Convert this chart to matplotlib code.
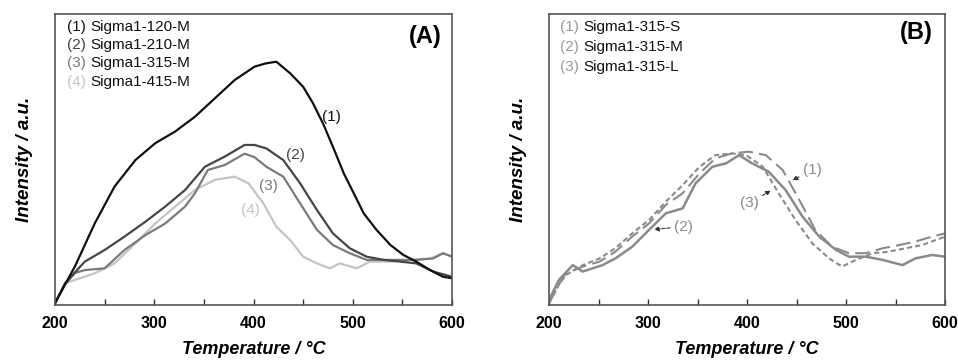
import matplotlib
matplotlib.use("Agg")
import matplotlib.pyplot as plt
from matplotlib.ticker import MultipleLocator, NullLocator

plt.rcParams['font.family'] = ['Liberation Sans', 'DejaVu Sans']

# ---------------- Panel A data ----------------
a1_x = [200, 210, 220, 240, 260, 281, 301, 321, 341, 361, 381, 401, 412, 423, 437, 450, 460, 470, 480, 491, 501, 511, 524, 538, 551, 564, 578, 591, 600]
a1_y = [0.6, 7, 13.2, 28, 40.7, 49.8, 55.6, 59.6, 64.7, 71, 77.3, 81.9, 83, 83.6, 79.6, 75, 69.3, 62.4, 54.4, 45.2, 38.4, 31.5, 25.8, 20.6, 17.2, 14.9, 12, 9.7, 9.2]

a2_x = [200, 210, 230, 250, 270, 291, 311, 331, 351, 371, 391, 401, 413, 430, 447, 464, 480, 497, 514, 531, 548, 564, 581, 600]
a2_y = [0.6, 7.4, 14.9, 18.9, 23.5, 28.6, 33.8, 39.5, 47.5, 51, 55, 55, 53.8, 49.8, 41.8, 32.6, 24.6, 19.5, 16.6, 15.5, 14.9, 14.3, 11.5, 9.7]

a3_x = [200, 210, 220, 230, 250, 270, 291, 311, 331, 341, 354, 371, 391, 401, 413, 430, 447, 464, 480, 497, 514, 531, 548, 564, 581, 591, 600]
a3_y = [0.6, 7, 11, 12, 12.6, 18.9, 24, 28, 33.8, 38.4, 46.4, 48.1, 52, 50.8, 47.5, 44.1, 34.9, 25.8, 20.6, 17.8, 15.5, 15.5, 15.5, 15.5, 16, 17.8, 16.6]

a4_x = [200, 210, 220, 240, 260, 281, 301, 321, 341, 361, 381, 395, 410, 423, 437, 450, 464, 477, 487, 504, 517, 538, 558, 578, 591, 600]
a4_y = [0.6, 7.4, 8.6, 10.9, 14.3, 21.2, 28, 33.8, 39.5, 43, 44.1, 41.8, 34.9, 26.9, 22.3, 16.6, 14.3, 12.6, 14.3, 12.6, 14.9, 14.9, 15.5, 16, 17.8, 16.6]

a_nums = ["(1)", "(2)", "(3)", "(4)"]
a_names = ["Sigma1-120-M", "Sigma1-210-M", "Sigma1-315-M", "Sigma1-415-M"]
a_label_x = [479, 442, 415, 397]
a_label_y = [64.7, 51.5, 41, 32.6]

# ---------------- Panel B data ----------------
b1_x = [200, 210, 217, 234, 251, 267, 284, 301, 318, 335, 352, 368, 385, 402, 419, 436, 453, 469, 486, 503, 520, 537, 554, 570, 587, 600]
b1_y = [0.6, 7, 10.9, 13.2, 14.9, 18.3, 23.5, 28, 34.4, 38.4, 45.2, 50.4, 52.1, 52.7, 51.5, 46.4, 36, 25.8, 20, 17.8, 17.8, 19.5, 20.6, 21.8, 23.5, 24.6]

b2_x = [200, 210, 224, 234, 254, 267, 284, 301, 318, 335, 348, 365, 379, 392, 405, 422, 439, 456, 473, 490, 503, 520, 537, 557, 570, 587, 600]
b2_y = [1.7, 8.6, 13.7, 11.5, 13.7, 16, 20, 25.8, 31.5, 33.2, 41.8, 47.5, 48.7, 51.5, 48.7, 45.8, 39.5, 30.4, 23.5, 18.9, 16.6, 16.6, 15.5, 13.7, 16, 17.2, 16.6]

b3_x = [200, 210, 217, 234, 251, 267, 284, 301, 318, 335, 352, 368, 385, 399, 416, 432, 449, 466, 483, 496, 510, 527, 543, 560, 577, 600]
b3_y = [0.6, 7, 10.3, 13.7, 16, 19.5, 24.6, 29.2, 35.5, 41.2, 47.5, 51.5, 52.1, 51.5, 47.5, 38.4, 29.2, 21.2, 16, 13.2, 15.5, 17.8, 18.3, 19.5, 20.6, 23.5]

b_nums = ["(1)", "(2)", "(3)"]
b_names = ["Sigma1-315-S", "Sigma1-315-M", "Sigma1-315-L"]
b_text_xy = [(466, 46.4), (336, 26.9), (402, 34.9)]
b_tip_xy = [(446, 42.9), (306, 26), (424, 39.3)]

# ---------------- Figure ----------------
fig = plt.figure(figsize=(9.58, 3.6), dpi=100)
axA = fig.add_axes([55/958, 1-305/360, 397/958, 291/360])
axB = fig.add_axes([549/958, 1-305/360, 396/958, 291/360])

a_colors = ['#111111', '#454545', '#7a7a7a', '#c4c4c4']
b_color = '#8a8a8a'

for xs, ys, c in zip([a4_x, a3_x, a2_x, a1_x], [a4_y, a3_y, a2_y, a1_y], a_colors[::-1]):
    axA.plot(xs, ys, color=c, lw=1.6)

axB.plot(b1_x, b1_y, color=b_color, lw=1.5, dashes=(7, 3))
axB.plot(b3_x, b3_y, color=b_color, lw=1.5, dashes=(2.5, 1.5))
axB.plot(b2_x, b2_y, color=b_color, lw=1.8)

for ax in (axA, axB):
    ax.set_xlim(200, 600)
    ax.set_ylim(0, 100)
    ax.xaxis.set_major_locator(MultipleLocator(100))
    ax.xaxis.set_minor_locator(MultipleLocator(50))
    ax.yaxis.set_major_locator(NullLocator())
    ax.tick_params(axis='x', which='both', direction='in', length=4, width=1, color='#333333',
                   labelsize=11.5, pad=8)
    for lab in ax.get_xticklabels():
        lab.set_fontweight('bold')
    for sp in ax.spines.values():
        sp.set_color('#555555')
        sp.set_linewidth(1.2)
    ax.set_xlabel('Temperature / °C', fontsize=13, fontweight='bold', style='italic')
    ax.xaxis.set_label_coords(0.5, -0.122)
    ax.set_ylabel('Intensity / a.u.', fontsize=13.5, fontweight='bold', style='italic', labelpad=16)

# Panel A legend text
a_leg_y = [0.956, 0.893, 0.830, 0.767]
for num, name, c, yy in zip(a_nums, a_names, a_colors, a_leg_y):
    axA.text(0.030, yy, num, transform=axA.transAxes, color=c, fontsize=11, va='center', ha='left')
    axA.text(0.088, yy, name, transform=axA.transAxes, color='#111111', fontsize=11, va='center', ha='left')
axA.text(0.975, 0.922, '(A)', transform=axA.transAxes, fontsize=17, fontweight='bold', ha='right', va='center')

for num, c, lx, ly in zip(a_nums, a_colors, a_label_x, a_label_y):
    axA.text(lx, ly, num, color=c, fontsize=11, ha='center', va='center')

# Panel B legend text
b_leg_y = [0.956, 0.887, 0.818]
for num, name, yy in zip(b_nums, b_names, b_leg_y):
    axB.text(0.028, yy, num, transform=axB.transAxes, color='#9a9a9a', fontsize=11, va='center', ha='left')
    axB.text(0.086, yy, name, transform=axB.transAxes, color='#111111', fontsize=11, va='center', ha='left')
axB.text(0.970, 0.935, '(B)', transform=axB.transAxes, fontsize=17, fontweight='bold', ha='right', va='center')

for num, (tx, ty), (px, py) in zip(b_nums, b_text_xy, b_tip_xy):
    axB.annotate(num, xy=(px, py), xytext=(tx, ty), color='#8a8a8a', fontsize=11,
                 ha='center', va='center',
                 arrowprops=dict(arrowstyle='-|>', color='#333333', lw=0.8,
                                 linestyle=(0, (3, 1.5)), mutation_scale=7, shrinkA=1, shrinkB=0))

fig.savefig('out.png', dpi=100)
